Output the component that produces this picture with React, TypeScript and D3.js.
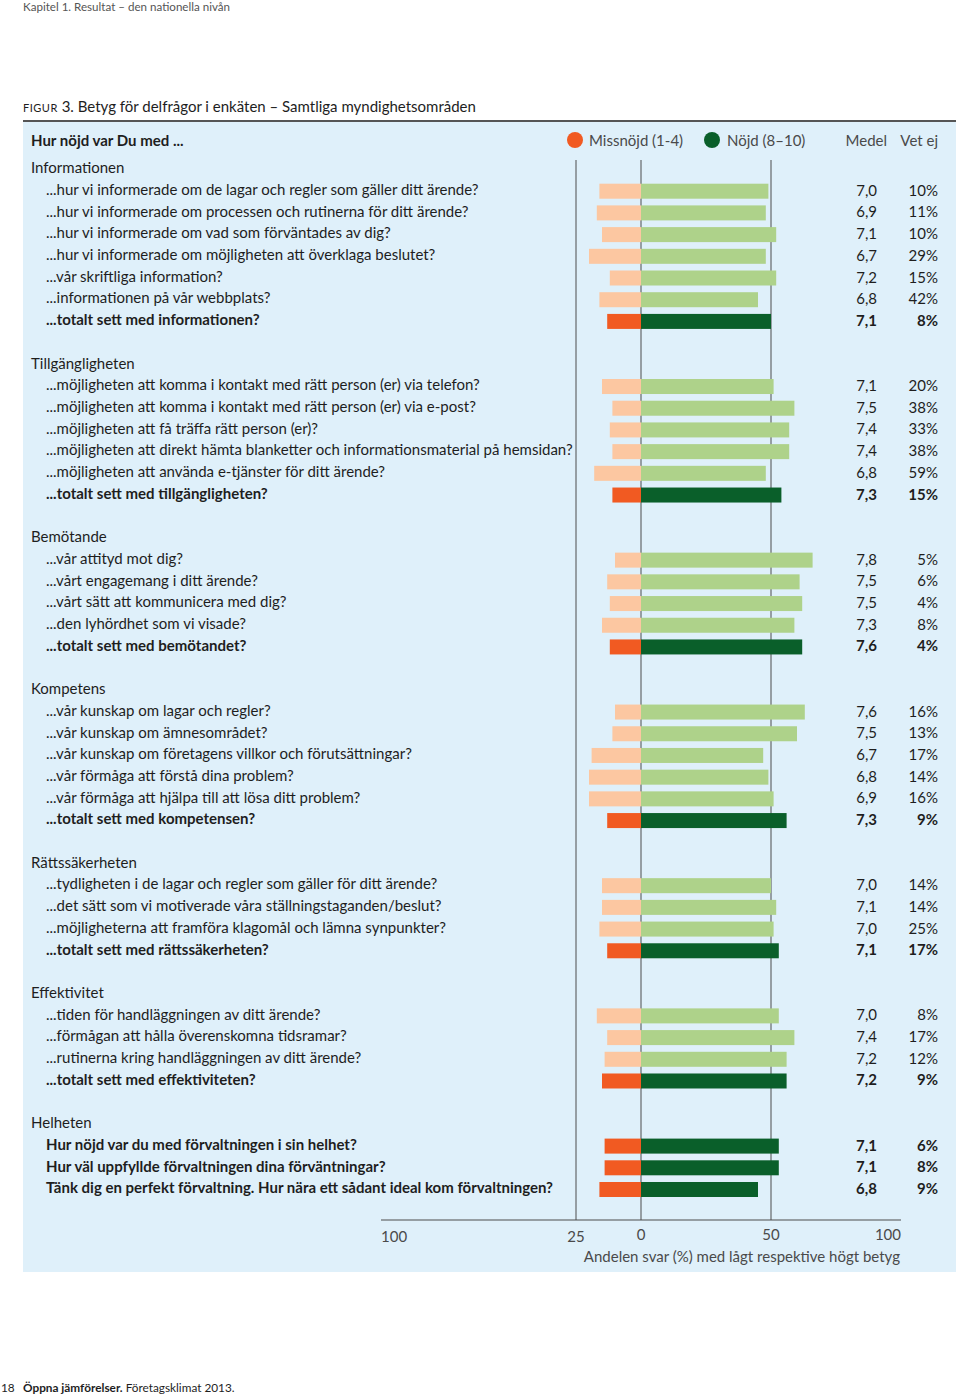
import React from "react";
import * as d3 from "d3";

const sections = ["Informationen", "Tillgängligheten", "Bemötande", "Kompetens", "Rättssäkerheten", "Effektivitet", "Helheten"];

const questions: string[][] = [
  [
    "...hur vi informerade om de lagar och regler som gäller ditt ärende?",
    "...hur vi informerade om processen och rutinerna för ditt ärende?",
    "...hur vi informerade om vad som förväntades av dig?",
    "...hur vi informerade om möjligheten att överklaga beslutet?",
    "...vår skriftliga information?",
    "...informationen på vår webbplats?",
    "...totalt sett med informationen?",
  ],
  [
    "...möjligheten att komma i kontakt med rätt person (er) via telefon?",
    "...möjligheten att komma i kontakt med rätt person (er) via e-post?",
    "...möjligheten att få träffa rätt person (er)?",
    "...möjligheten att direkt hämta blanketter och informationsmaterial på hemsidan?",
    "...möjligheten att använda e-tjänster för ditt ärende?",
    "...totalt sett med tillgängligheten?",
  ],
  [
    "...vår attityd mot dig?",
    "...vårt engagemang i ditt ärende?",
    "...vårt sätt att kommunicera med dig?",
    "...den lyhördhet som vi visade?",
    "...totalt sett med bemötandet?",
  ],
  [
    "...vår kunskap om lagar och regler?",
    "...vår kunskap om ämnesområdet?",
    "...vår kunskap om företagens villkor och förutsättningar?",
    "...vår förmåga att förstå dina problem?",
    "...vår förmåga att hjälpa till att lösa ditt problem?",
    "...totalt sett med kompetensen?",
  ],
  [
    "...tydligheten i de lagar och regler som gäller för ditt ärende?",
    "...det sätt som vi motiverade våra ställningstaganden/beslut?",
    "...möjligheterna att framföra klagomål och lämna synpunkter?",
    "...totalt sett med rättssäkerheten?",
  ],
  [
    "...tiden för handläggningen av ditt ärende?",
    "...förmågan att hålla överenskomna tidsramar?",
    "...rutinerna kring handläggningen av ditt ärende?",
    "...totalt sett med effektiviteten?",
  ],
  [
    "Hur nöjd var du med förvaltningen i sin helhet?",
    "Hur väl uppfyllde förvaltningen dina förväntningar?",
    "Tänk dig en perfekt förvaltning. Hur nära ett sådant ideal kom förvaltningen?",
  ],
];

// Missnöjd (1-4), percent
const dissatisfied: number[][] = [
  [16, 17, 15, 20, 12, 16, 13],
  [15, 11, 12, 11, 18, 11],
  [10, 13, 12, 15, 12],
  [10, 11, 19, 20, 20, 13],
  [15, 15, 16, 13],
  [17, 13, 14, 15],
  [14, 14, 16],
];

// Nöjd (8-10), percent
const satisfied: number[][] = [
  [49, 48, 52, 48, 52, 45, 50],
  [51, 59, 57, 57, 48, 54],
  [66, 61, 62, 59, 62],
  [63, 60, 47, 49, 51, 56],
  [50, 52, 51, 53],
  [53, 59, 56, 56],
  [53, 53, 45],
];

const medel: string[][] = [
  ["7,0", "6,9", "7,1", "6,7", "7,2", "6,8", "7,1"],
  ["7,1", "7,5", "7,4", "7,4", "6,8", "7,3"],
  ["7,8", "7,5", "7,5", "7,3", "7,6"],
  ["7,6", "7,5", "6,7", "6,8", "6,9", "7,3"],
  ["7,0", "7,1", "7,0", "7,1"],
  ["7,0", "7,4", "7,2", "7,2"],
  ["7,1", "7,1", "6,8"],
];

const vetEj: string[][] = [
  ["10%", "11%", "10%", "29%", "15%", "42%", "8%"],
  ["20%", "38%", "33%", "38%", "59%", "15%"],
  ["5%", "6%", "4%", "8%", "4%"],
  ["16%", "13%", "17%", "14%", "16%", "9%"],
  ["14%", "14%", "25%", "17%"],
  ["8%", "17%", "12%", "9%"],
  ["6%", "8%", "9%"],
];

const axisTicksLeft = [100, 25];
const axisTicksRight = [0, 50, 100];
const gridLines = [-25, 0, 50];

const FONT = "Lato, 'Open Sans', sans-serif";
const FS = 15;
const C = {
  bg: "#dff0fa",
  lightOrange: "#fcc7a1",
  lightGreen: "#aed28a",
  darkOrange: "#f15a22",
  darkGreen: "#0a5f2a",
  text: "#1e1e1e",
  grey: "#4a4a4a",
  line: "#4d4d4d",
};

type Row = {
  kind: "heading" | "item";
  text: string;
  slot: number;
  bold?: boolean;
  dis?: number;
  sat?: number;
  medel?: string;
  vetEj?: string;
};

function buildRows(): Row[] {
  const rows: Row[] = [];
  let slot = 0;
  sections.forEach((s, si) => {
    if (si > 0) slot += 1; // blank line
    rows.push({ kind: "heading", text: s, slot });
    slot += 1;
    questions[si].forEach((q, qi) => {
      const isTotal = si === sections.length - 1 || qi === questions[si].length - 1;
      rows.push({
        kind: "item",
        text: q,
        slot,
        bold: isTotal,
        dis: dissatisfied[si][qi],
        sat: satisfied[si][qi],
        medel: medel[si][qi],
        vetEj: vetEj[si][qi],
      });
      slot += 1;
    });
  });
  return rows;
}

export default function App() {
  const rows = buildRows();
  const maxSlot = d3.max(rows, (r) => r.slot) as number;
  const y = d3.scaleLinear().domain([0, maxSlot]).range([168, 1188]);
  const x = d3.scaleLinear().domain([-100, 100]).range([381, 901]);
  const barH = 15;
  const axisY = 1220;

  return (
    <svg
      width={960}
      height={1398}
      style={{ position: "absolute", left: 0, top: 0, display: "block" }}
      fontFamily={FONT}
    >
      <rect x={0} y={0} width={960} height={1398} fill="#fff" />
      <text x={23} y={11} fontSize={11.6} fill="#555">
        Kapitel 1. Resultat – den nationella nivån
      </text>

      <text x={23} y={112} fontSize={15} fill={C.text}>
        <tspan fontSize={11} letterSpacing={0.5}>FIGUR</tspan>
        <tspan> 3. Betyg för delfrågor i enkäten – Samtliga myndighetsområden</tspan>
      </text>
      <rect x={23} y={122} width={933} height={1150} fill={C.bg} />
      <line x1={23} x2={956} y1={121} y2={121} stroke="#555" strokeWidth={2} />

      {/* header row */}
      <text x={31} y={141} dy="0.35em" fontSize={FS} fontWeight={700} fill={C.text}>
        Hur nöjd var Du med ...
      </text>
      <circle cx={575} cy={140} r={8} fill={C.darkOrange} />
      <text x={589} y={141} dy="0.35em" fontSize={FS} fill={C.grey}>
        Missnöjd (1-4)
      </text>
      <circle cx={712} cy={140} r={8} fill={C.darkGreen} />
      <text x={727} y={141} dy="0.35em" fontSize={FS} fill={C.grey}>
        Nöjd (8–10)
      </text>
      <text x={887} y={141} dy="0.35em" fontSize={FS} fill={C.grey} textAnchor="end">
        Medel
      </text>
      <text x={938} y={141} dy="0.35em" fontSize={FS} fill={C.grey} textAnchor="end">
        Vet ej
      </text>

      {/* grid lines */}
      {gridLines.map((g) => (
        <line key={g} x1={x(g)} x2={x(g)} y1={160} y2={axisY} stroke={C.line} strokeWidth={1} />
      ))}

      {rows.map((r, i) => {
        const cy = y(r.slot);
        if (r.kind === "heading") {
          return (
            <text key={i} x={31} y={cy} dy="0.35em" fontSize={FS} fill={C.text}>
              {r.text}
            </text>
          );
        }
        const total = !!r.bold;
        return (
          <g key={i}>
            <text x={46} y={cy} dy="0.35em" fontSize={FS} fontWeight={total ? 700 : 400} fill={C.text}>
              {r.text}
            </text>
            <rect
              x={x(-(r.dis as number))}
              y={cy + 1.5 - barH / 2}
              width={x(0) - x(-(r.dis as number))}
              height={barH}
              fill={total ? C.darkOrange : C.lightOrange}
            />
            <rect
              x={x(0)}
              y={cy + 1.5 - barH / 2}
              width={x(r.sat as number) - x(0)}
              height={barH}
              fill={total ? C.darkGreen : C.lightGreen}
            />
            <text x={877} y={cy} dy="0.4em" fontSize={FS} fontWeight={total ? 700 : 400} fill={C.text} textAnchor="end">
              {r.medel}
            </text>
            <text x={938} y={cy} dy="0.4em" fontSize={FS} fontWeight={total ? 700 : 400} fill={C.text} textAnchor="end">
              {r.vetEj}
            </text>
          </g>
        );
      })}

      {/* axis */}
      <line x1={x(-100)} x2={x(100)} y1={axisY} y2={axisY} stroke={C.line} strokeWidth={1} />
      {axisTicksLeft.map((t) => (
        <text
          key={"l" + t}
          x={x(-t)}
          y={1237}
          dy="0.35em"
          fontSize={FS}
          fill={C.grey}
          textAnchor={t === 100 ? "start" : "middle"}
        >
          {t}
        </text>
      ))}
      {axisTicksRight.map((t) => (
        <text
          key={"r" + t}
          x={x(t)}
          y={1235}
          dy="0.35em"
          fontSize={FS}
          fill={C.grey}
          textAnchor={t === 100 ? "end" : "middle"}
        >
          {t}
        </text>
      ))}
      <text x={900} y={1257} dy="0.35em" fontSize={FS} fill={C.grey} textAnchor="end">
        Andelen svar (%) med lågt respektive högt betyg
      </text>

      {/* footer */}
      <text x={1} y={1392} fontSize={11.8} fill={C.text}>
        18
      </text>
      <text x={23} y={1392} fontSize={11.8} fill={C.text}>
        <tspan fontWeight={700}>Öppna jämförelser.</tspan>
        <tspan> Företagsklimat 2013.</tspan>
      </text>
    </svg>
  );
}
